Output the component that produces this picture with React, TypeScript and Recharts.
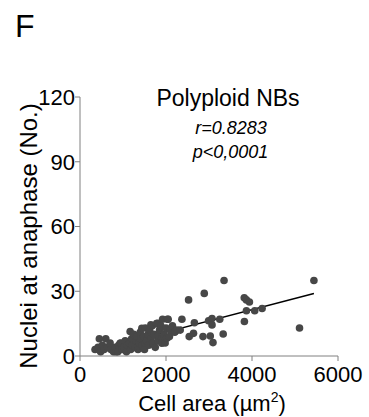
import React from 'react';
import { ComposedChart, Scatter, XAxis, YAxis, ReferenceLine } from 'recharts';

// cell area (µm²) and number of nuclei at anaphase, one entry per neuroblast
const cellArea = [
  350, 420, 450, 480, 520, 560, 600, 640, 700, 720, 780, 820, 839, 880, 900, 932, 950, 980,
  1020, 1050, 1080, 1100, 1150, 1166, 1180, 1200, 1220, 1250, 1280, 1300, 1320, 1350, 1360, 1380, 1400, 1420, 1438, 1450, 1480, 1500,
  1515, 1520, 1550, 1580, 1600, 1620, 1648, 1650, 1680, 1694, 1700, 1720, 1750, 1780, 1800, 1803, 1820, 1850, 1880, 1900, 1904, 1920, 1950, 1980,
  2000, 2020, 2035, 2050, 2080, 2100, 2150, 2200, 2214, 2250, 2330, 2370,
  2525, 2540, 2640, 2660, 2860, 2890, 2990, 3030, 3070, 3070, 3093, 3250, 3330, 3350,
  3820, 3870, 3940, 3870, 4063, 4235, 3823, 5105, 5440,
];
const nuclei = [
  3, 4, 8, 2, 5, 3, 8, 4, 6, 3, 2, 4, 2, 2, 5, 5.9, 6, 3,
  4, 7, 2, 5, 6, 11.3, 3, 8, 5, 10, 4, 7, 9, 3, 4.6, 6, 11, 8, 12.8, 5, 9, 3,
  5.9, 13, 7, 10, 5, 12, 14.4, 8, 14, 5.9, 6, 10, 4, 15, 9, 15.1, 7, 12, 14, 8, 5.9, 17, 10, 6,
  13, 8.2, 17, 17, 9, 12, 14, 11, 11.3, 12, 12, 17,
  26, 9, 10.5, 15.4, 9, 29, 16.3, 9.3, 17.4, 14.4, 6.2, 17, 10.2, 35,
  27, 26, 25, 21, 21, 22, 16, 13, 35,
];

// linear fit, drawn from the first to the last cell
const fitStart = { x: 350, y: 2.5 };
const fitEnd = { x: 5440, y: 29 };

const xTicks = [0, 2000, 4000, 6000];
const yTicks = [0, 30, 60, 90, 120];

const points = cellArea.map((x, i) => ({ x, y: nuclei[i] }));

const font = '"Liberation Sans", Arial, sans-serif';
const axisGray = '#808080';

export default function App() {
  return (
    <div style={{ position: 'absolute', left: 0, top: 0, width: 369, height: 417, background: '#fff', fontFamily: font }}>
      <ComposedChart width={369} height={417} margin={{ top: 97, right: 31, left: 20, bottom: 0 }}>
        <XAxis
          type="number"
          dataKey="x"
          domain={[0, 6000]}
          ticks={xTicks}
          height={61}
          stroke={axisGray}
          tickSize={5}
          tickMargin={5}
          tick={{ fill: '#000', fontSize: 22, fontFamily: font }}
        />
        <YAxis
          type="number"
          dataKey="y"
          domain={[0, 120]}
          ticks={yTicks}
          width={60}
          stroke={axisGray}
          tickSize={5}
          tickMargin={0}
          tick={{ fill: '#000', fontSize: 22, fontFamily: font }}
        />
        <Scatter data={points} fill="#474747" shape={(p: any) => <circle cx={p.cx} cy={p.cy} r={3.8} fill="#474747" />} isAnimationActive={false} />
        <ReferenceLine segment={[fitStart, fitEnd]} stroke="#000" strokeWidth={1.5} ifOverflow="visible" />
      </ComposedChart>
      <svg width={369} height={417} style={{ position: 'absolute', left: 0, top: 0, pointerEvents: 'none' }}>
        <text x={15} y={37} fontSize={32} fontFamily={font} fill="#000">F</text>
        <text x={228} y={106} fontSize={23} fontFamily={font} textAnchor="middle" fill="#000">Polyploid NBs</text>
        <text x={231} y={133.5} fontSize={18} fontStyle="italic" fontFamily={font} textAnchor="middle" fill="#000">r=0.8283</text>
        <text x={230.5} y={157.5} fontSize={18} fontStyle="italic" fontFamily={font} textAnchor="middle" fill="#000">p&lt;0,0001</text>
        <text x={28} y={236} fontSize={24} fontFamily={font} textAnchor="middle" dominantBaseline="central" transform="rotate(-90 28 236)" fill="#000">
          Nuclei at anaphase (No.)
        </text>
        <text x={212} y={411} fontSize={22} fontFamily={font} textAnchor="middle" fill="#000">
          Cell area (µm<tspan fontSize={14} dy={-9}>2</tspan><tspan dy={9}>)</tspan>
        </text>
      </svg>
    </div>
  );
}
